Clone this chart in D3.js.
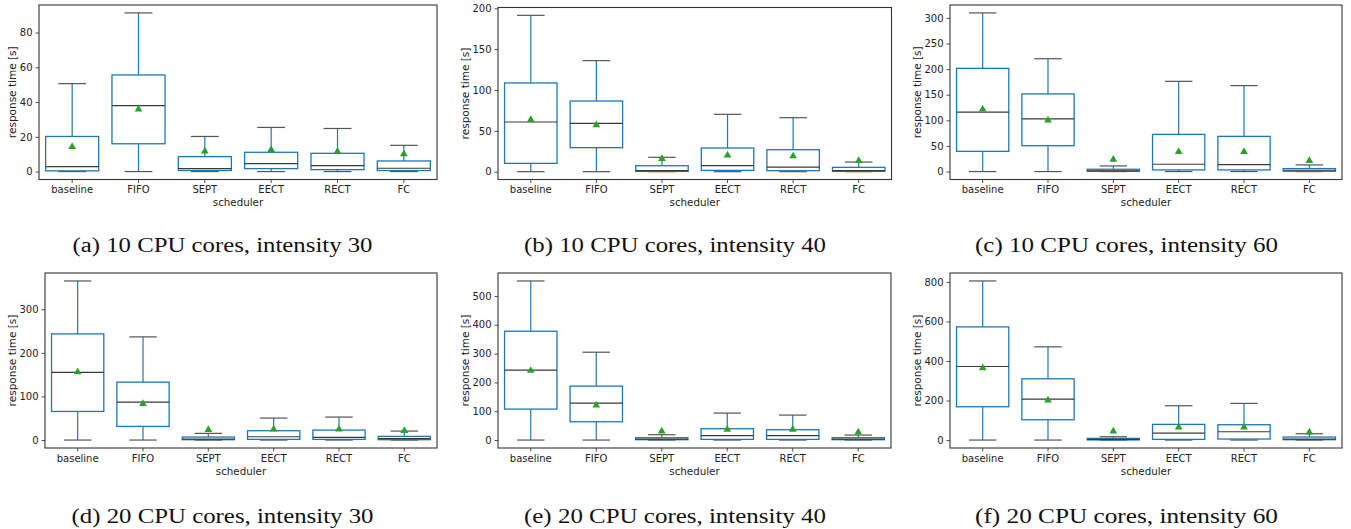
<!DOCTYPE html>
<html>
<head>
<meta charset="utf-8">
<script src="https://cdn.jsdelivr.net/npm/d3@7"></script>
<style>
  body { margin: 0; background: #fff; }
  svg { display: block; }
  .tick text { font-family: "DejaVu Sans", sans-serif; font-size: 10px; fill: #222; }
</style>
</head>
<body>
<div id="chart"></div>
<script>
////////////////////////////////////////////////////////////////
// Data
const schedulers = ["baseline", "FIFO", "SEPT", "EECT", "RECT", "FC"];

// each row: [whisker low, q1, median, q3, whisker high, mean]
const stats10c30 = [
  [0, 0.4, 2.9, 20.2, 50.6, 14.9],
  [0, 16.0, 38.0, 55.6, 91.3, 36.5],
  [0, 0.6, 1.7, 8.6, 20.2, 12.4],
  [0, 1.7, 4.6, 11.1, 25.4, 13.2],
  [0, 1.1, 3.4, 10.5, 24.8, 12.2],
  [0, 0.6, 1.9, 6.1, 15.1, 10.7]
];
const stats10c40 = [
  [0, 10.2, 60.8, 108.6, 191.4, 64.9],
  [0, 29.4, 59.2, 86.5, 135.9, 58.4],
  [0, 0.4, 1.2, 7.3, 17.6, 17.1],
  [0, 1.6, 7.3, 29.0, 70.2, 21.6],
  [0, 1.2, 5.7, 26.9, 66.1, 20.4],
  [0, 0.4, 1.2, 5.3, 11.8, 14.7]
];
const stats10c60 = [
  [0, 39.5, 116.0, 201.5, 309.7, 123.8],
  [0, 50.5, 103.0, 151.6, 220.3, 102.4],
  [0, 0.6, 1.3, 4.5, 11.0, 25.9],
  [0, 3.2, 14.3, 72.6, 176.2, 40.8],
  [0, 3.2, 13.6, 68.7, 167.8, 40.8],
  [0, 0.6, 2.6, 5.8, 13.0, 23.3]
];
const stats20c30 = [
  [0, 65.6, 155.0, 243.5, 364.9, 158.8],
  [0, 31.3, 87.0, 132.8, 236.6, 86.0],
  [0, 0.8, 2.3, 6.9, 15.3, 26.0],
  [0, 1.5, 7.6, 21.4, 50.4, 27.5],
  [0, 1.5, 6.1, 22.9, 52.7, 27.5],
  [0, 0.8, 3.1, 8.4, 20.6, 23.7]
];
const stats20c40 = [
  [0, 107.4, 242.5, 377.6, 552.0, 244.8],
  [0, 63.5, 128.2, 187.1, 304.8, 124.7],
  [0, 1.2, 3.5, 8.1, 18.5, 34.6],
  [0, 2.3, 15.0, 39.3, 93.5, 40.4],
  [0, 2.3, 15.0, 35.8, 86.6, 40.4],
  [0, 1.2, 3.5, 8.1, 17.3, 31.2]
];
const stats20c60 = [
  [0, 168.4, 372.2, 572.6, 805.0, 370.5],
  [0, 102.7, 207.2, 309.9, 471.6, 207.2],
  [0, 0.5, 3.4, 8.4, 16.8, 50.5],
  [0, 3.4, 35.4, 79.2, 173.5, 70.7],
  [0, 5.1, 42.1, 77.5, 185.3, 70.7],
  [0, 1.7, 5.1, 15.2, 32.0, 45.5]
];

const yTicks10c30 = [0, 20, 40, 60, 80];
const yTicks10c40 = [0, 50, 100, 150, 200];
const yTicks10c60 = [0, 50, 100, 150, 200, 250, 300];
const yTicks20c30 = [0, 100, 200, 300];
const yTicks20c40 = [0, 100, 200, 300, 400, 500];
const yTicks20c60 = [0, 200, 400, 600, 800];

const captions = [
  "(a) 10 CPU cores, intensity 30",
  "(b) 10 CPU cores, intensity 40",
  "(c) 10 CPU cores, intensity 60",
  "(d) 20 CPU cores, intensity 30",
  "(e) 20 CPU cores, intensity 40",
  "(f) 20 CPU cores, intensity 60"
];

////////////////////////////////////////////////////////////////
// Layout of the six panels (frame box, label offsets)
const width = 1351, height = 529;
const panels = [
  { stats: stats10c30, ticks: yTicks10c30, x0: 39,  x1: 437,  y0: 5,   y1: 179.5, ylabX: 12 },
  { stats: stats10c40, ticks: yTicks10c40, x0: 498, x1: 891.5, y0: 7.5, y1: 179.5, ylabX: 465 },
  { stats: stats10c60, ticks: yTicks10c60, x0: 950, x1: 1342, y0: 5,   y1: 179.5, ylabX: 917 },
  { stats: stats20c30, ticks: yTicks20c30, x0: 45,  x1: 437,  y0: 273, y1: 448,   ylabX: 12 },
  { stats: stats20c40, ticks: yTicks20c40, x0: 498, x1: 891,  y0: 273, y1: 448,   ylabX: 465 },
  { stats: stats20c60, ticks: yTicks20c60, x0: 950, x1: 1342, y0: 273, y1: 448,   ylabX: 917 }
];
const captionX = [222.5, 675, 1126.5, 222.5, 675, 1126.5];
const captionY = [252, 252, 252, 523, 523, 523];
const captionW = [300, 302, 303, 302, 302, 303];

const blue = "#1f77b4", green = "#2ca02c", gray = "#3a3a3a";
const triSize = 26;
// d3 centres the triangle on its centroid; matplotlib on its bounding box
const triShift = Math.sqrt(triSize * 4 / Math.sqrt(3)) * Math.sqrt(3) / 2 / 6;

const svg = d3.select("#chart").append("svg")
  .attr("width", width)
  .attr("height", height)
  .attr("viewBox", [0, 0, width, height]);

const drawPanel = (p, i) => {
  const g = svg.append("g");

  const x = d3.scaleBand().domain(schedulers).range([p.x0, p.x1]);
  const hi = d3.max(p.stats, d => d[4]);
  const y = d3.scaleLinear([-0.05 * hi, 1.05 * hi], [p.y1, p.y0]);
  const bw = x.bandwidth();
  const cx = s => x(s) + bw / 2;

  const rows = p.stats.map((d, j) => ({
    name: schedulers[j], lo: d[0], q1: d[1], med: d[2], q3: d[3], hi: d[4], mean: d[5]
  }));

  // axes
  g.append("g")
    .attr("transform", `translate(${p.x0},0)`)
    .call(d3.axisLeft(y).tickValues(p.ticks).tickSize(3.5).tickPadding(3))
    .call(a => a.select(".domain").remove())
    .call(a => a.selectAll(".tick line").attr("stroke", "#222").attr("stroke-width", 0.8));

  g.append("g")
    .attr("transform", `translate(0,${p.y1})`)
    .call(d3.axisBottom(x).tickSize(3.5).tickPadding(3))
    .call(a => a.select(".domain").remove())
    .call(a => a.selectAll(".tick line").attr("stroke", "#222").attr("stroke-width", 0.8));

  const box = g.append("g").selectAll("g").data(rows).join("g");

  // whiskers
  box.append("line")
    .attr("x1", d => cx(d.name)).attr("x2", d => cx(d.name))
    .attr("y1", d => y(d.q3)).attr("y2", d => y(d.hi))
    .attr("stroke", blue).attr("stroke-width", 1.2);
  box.append("line")
    .attr("x1", d => cx(d.name)).attr("x2", d => cx(d.name))
    .attr("y1", d => y(d.q1)).attr("y2", d => y(d.lo))
    .attr("stroke", blue).attr("stroke-width", 1.2);

  // caps
  box.selectAll(".cap").data(d => [d.lo, d.hi].map(v => ({ name: d.name, v })))
    .join("line")
    .attr("class", "cap")
    .attr("x1", d => cx(d.name) - bw * 0.21).attr("x2", d => cx(d.name) + bw * 0.21)
    .attr("y1", d => y(d.v)).attr("y2", d => y(d.v))
    .attr("stroke", "#555").attr("stroke-width", 1.2);

  // boxes
  box.append("rect")
    .attr("x", d => cx(d.name) - bw * 0.4)
    .attr("width", bw * 0.8)
    .attr("y", d => y(d.q3))
    .attr("height", d => Math.max(0.5, y(d.q1) - y(d.q3)))
    .attr("fill", "none")
    .attr("stroke", blue).attr("stroke-width", 1.3);

  // medians
  box.append("line")
    .attr("x1", d => cx(d.name) - bw * 0.4).attr("x2", d => cx(d.name) + bw * 0.4)
    .attr("y1", d => y(d.med)).attr("y2", d => y(d.med))
    .attr("stroke", gray).attr("stroke-width", 1.2);

  // means
  box.append("path")
    .attr("d", d3.symbol(d3.symbolTriangle, triSize))
    .attr("transform", d => `translate(${cx(d.name)},${y(d.mean) + triShift})`)
    .attr("fill", green);

  // frame
  g.append("rect")
    .attr("x", p.x0).attr("y", p.y0)
    .attr("width", p.x1 - p.x0).attr("height", p.y1 - p.y0)
    .attr("fill", "none").attr("stroke", "#333").attr("stroke-width", 1.1);

  // axis labels
  g.append("text")
    .attr("transform", `translate(${p.ylabX},${(p.y0 + p.y1) / 2}) rotate(-90)`)
    .attr("text-anchor", "middle")
    .attr("dy", "0.35em")
    .style("font-family", "DejaVu Sans, sans-serif")
    .style("font-size", "10.5px")
    .style("fill", "#222")
    .text("response time [s]");

  g.append("text")
    .attr("x", (p.x0 + p.x1) / 2)
    .attr("y", p.y1 + 23)
    .attr("text-anchor", "middle")
    .attr("dy", "0.35em")
    .style("font-family", "DejaVu Sans, sans-serif")
    .style("font-size", "10.3px")
    .style("fill", "#222")
    .text("scheduler");

  // caption
  g.append("text")
    .attr("x", captionX[i] - captionW[i] / 2)
    .attr("y", captionY[i])
    .attr("textLength", captionW[i])
    .attr("lengthAdjust", "spacingAndGlyphs")
    .style("font-family", "Liberation Serif, Times New Roman, serif")
    .style("font-size", "20px")
    .style("fill", "#111")
    .text(captions[i]);
}

panels.forEach(drawPanel);
</script>
</body>
</html>
